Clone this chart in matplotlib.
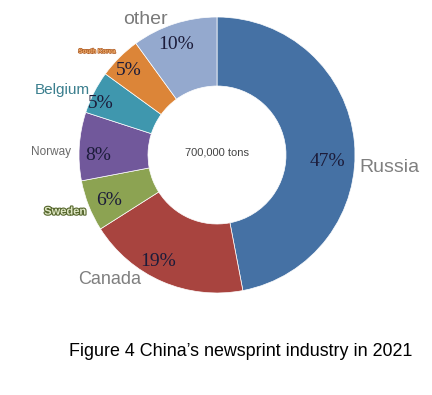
import matplotlib
matplotlib.use("Agg")
import matplotlib.pyplot as plt
import matplotlib.patheffects as pe

# data
countries = ["Russia", "Canada", "Sweden", "Norway", "Belgium", "South Korea", "other"]
shares = [47, 19, 6, 8, 5, 5, 10]
colors = ["#4571a4", "#a8443f", "#8ca352", "#71589b", "#3f97ae", "#dc8538", "#94a9ce"]
total_label = "700,000 tons"
title = "Figure 4 China\u2019s newsprint industry in 2021"

# label layout (pie radius = 1)
pct_pos = [(0.80, -0.05), (-0.43, -0.77), (-0.78, -0.33), (-0.86, 0.0),
           (-0.84, 0.37), (-0.64, 0.61), (-0.30, 0.80)]
name_pos = [(1.25, -0.09), (-0.78, -0.90), (-1.10, -0.41), (-1.20, 0.02),
            (-1.12, 0.47), (-0.87, 0.75), (-0.52, 0.98)]
name_style = [
    dict(fontsize=14, color="#7f7f7f"),
    dict(fontsize=13, color="#7f7f7f"),
    dict(fontsize=8, color="#dfe7c4", fontweight="bold",
         path_effects=[pe.withStroke(linewidth=1.6, foreground="#55662c")]),
    dict(fontsize=8.5, color="#6a6a6a"),
    dict(fontsize=11, color="#3b7f8e"),
    dict(fontsize=4.5, color="#f0b070", fontweight="bold",
         path_effects=[pe.withStroke(linewidth=1.0, foreground="#b0602a")]),
    dict(fontsize=14, color="#7a7a7a"),
]

fig = plt.figure(figsize=(4.32, 3.95), dpi=100)
ax = fig.add_axes([79 / 432, 102 / 395, 276 / 432, 276 / 395])

wedges, _, autotexts = ax.pie(
    shares, colors=colors, startangle=90, counterclock=False, radius=1,
    autopct="%d%%", pctdistance=0.8,
    wedgeprops=dict(width=0.5, edgecolor="white", linewidth=0.5),
    textprops=dict(family="Liberation Serif", fontsize=14, color="#1c1c3a"),
)
for t, p in zip(autotexts, pct_pos):
    t.set_position(p)

for name, p, st in zip(countries, name_pos, name_style):
    ax.text(p[0], p[1], name, ha="center", va="center", family="Liberation Sans", **st)

ax.text(0, 0.02, total_label, ha="center", va="center", fontsize=8,
        color="#444444", family="Liberation Sans")
ax.set_xlim(-1, 1)
ax.set_ylim(-1, 1)
ax.set_aspect("equal")
ax.axis("off")

fig.text(241 / 432, 1 - 352 / 395, title, ha="center", va="center",
         fontsize=12.9, family="Liberation Sans", color="black")

fig.savefig("out.png", dpi=100)
